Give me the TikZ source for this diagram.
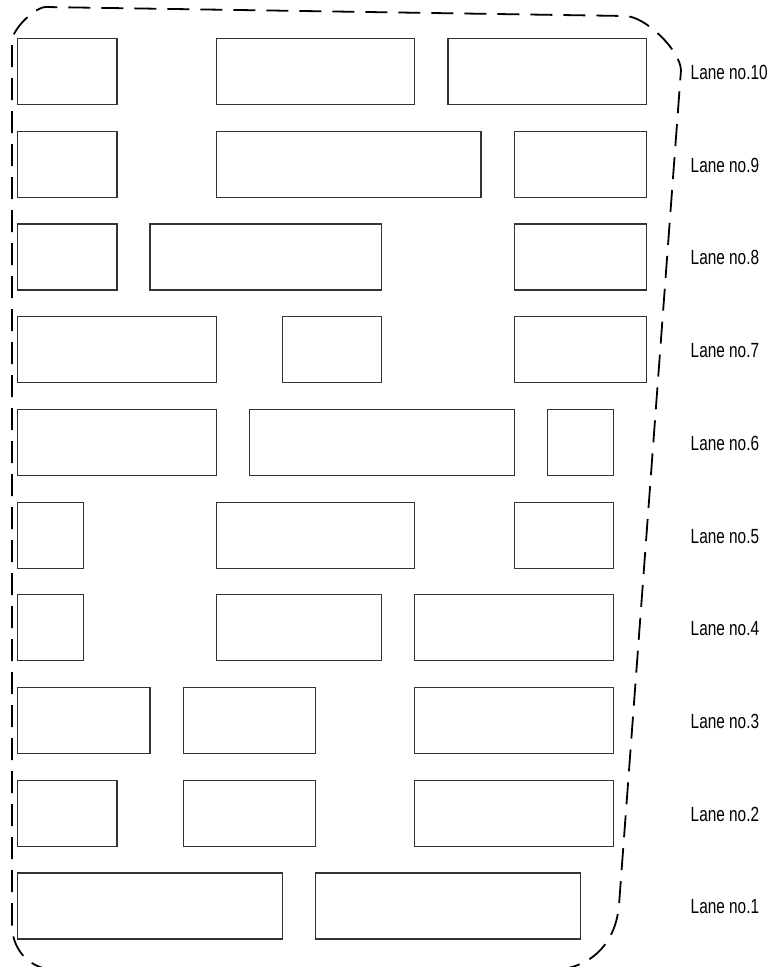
\documentclass[tikz,border=0pt]{standalone}
\usepackage{fontspec}
\newfontfamily\lanefont{Liberation Sans}[FakeStretch=0.75]
\begin{document}
\begin{tikzpicture}[x=1pt,y=-1pt,
  lanebox/.style={draw=black!80,line width=1.2pt},
  lanelabel/.style={anchor=base west,inner sep=0pt,font=\lanefont\fontsize{20.5}{22}\selectfont},
  boundary/.style={draw=black,line width=1.8pt,dash pattern=on 22pt off 11pt}]
\useasboundingbox (0,0) rectangle (781,967);
\clip (0,0) rectangle (781,967);
\def\ux{33.1}
% lanes: {lane number}{row index}{list of start/end units}
\foreach \lane/\k/\boxes in {10/0/{0/3,6/12,13/19},
                             9/1/{0/3,6/14,15/19},
                             8/2/{0/3,4/11,15/19},
                             7/3/{0/6,8/11,15/19},
                             6/4/{0/6,7/15,16/18},
                             5/5/{0/2,6/12,15/18},
                             4/6/{0/2,6/11,12/18},
                             3/7/{0/4,5/9,12/18},
                             2/8/{0/3,5/9,12/18},
                             1/9/{0/8,9/17}}{
  \pgfmathsetmacro{\ytop}{38+92.7*\k}
  \pgfmathsetmacro{\ymid}{\ytop+33+8.5}
  \foreach \a/\b [count=\i] in \boxes {
    \pgfmathsetmacro{\xa}{17+\ux*\a}
    \pgfmathsetmacro{\xb}{17+\ux*\b}
    \node[lanebox,inner sep=0pt,minimum width={\xb-\xa},minimum height=66pt,anchor=north west]
      (b\lane-\i) at (\xa,\ytop) {};
  }
  \node[lanelabel] (l\lane) at (690.5,\ymid) {Lane no.\lane};
}
% dashed boundary
\coordinate (tl1) at (12,40);
\coordinate (tl2) at (45,7);
\coordinate (tr1) at (625,16);
\coordinate (tr2) at (681,70);
\coordinate (br1) at (619,905);
\coordinate (br2) at (555,970);
\coordinate (bl1) at (57,970);
\coordinate (bl2) at (12,925);
\draw[boundary] (bl2) -- (tl1)
  .. controls (13,30) and (32,9) .. (tl2) -- (tr1)
  .. controls (645,16) and (680,50) .. (tr2) -- (br1)
  .. controls (616,940) and (595,967) .. (br2) -- (bl1)
  .. controls (30,970) and (12,950) .. (bl2);
\end{tikzpicture}
\end{document}
